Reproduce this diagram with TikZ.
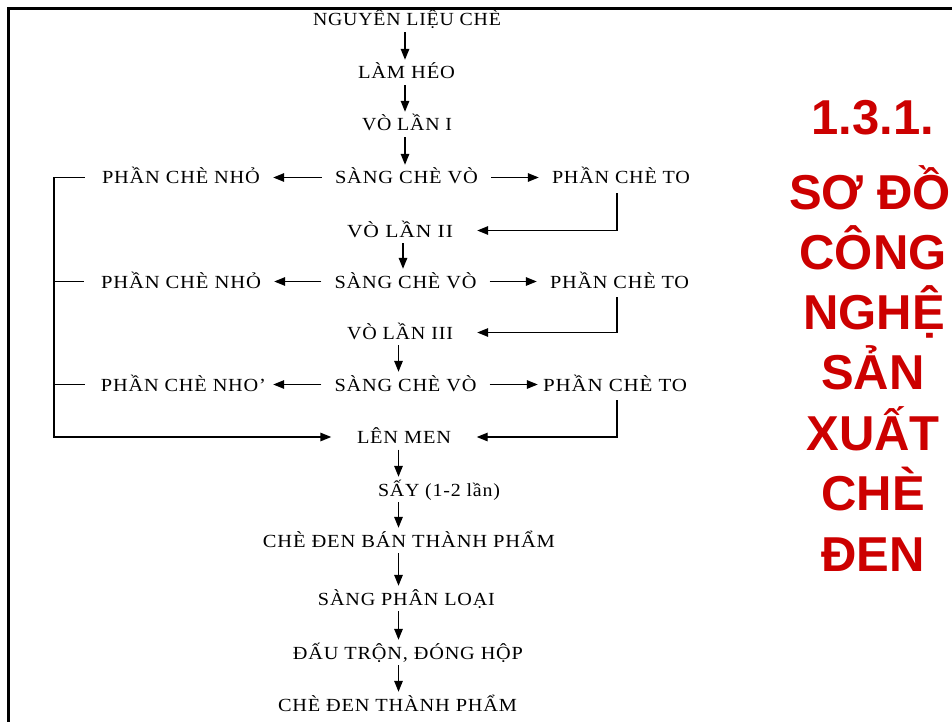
\documentclass[tikz,border=0pt]{standalone}
\usepackage{fontspec}
\setmainfont{Liberation Serif}
\newfontfamily\titlefont{Liberation Sans}
\usetikzlibrary{arrows.meta}
\definecolor{tred}{RGB}{204,0,0}
\newcommand\fitw[2]{\resizebox{#1pt}{\height}{\addfontfeature{LetterSpace=4}#2}}
\begin{document}
\begin{tikzpicture}[x=1pt,y=-1pt,
  lbl/.style={inner xsep=13pt, inner ysep=5pt, text height=14pt, text depth=1pt, anchor=base, font=\fontsize{18.5}{21}\selectfont},
  arr/.style={line width=1.4pt, -{Triangle[length=11pt,width=8.5pt]}},
  ln/.style={line width=1.4pt},
  ttl/.style={anchor=base, text=tred, font=\titlefont\bfseries\fontsize{49}{58}\selectfont, inner sep=0pt}
]
\useasboundingbox (0,0) rectangle (952,722);
\fill[white] (0,0) rectangle (952,722);
\draw[line width=3pt] (8.5,722) -- (8.5,8.5) -- (952,8.5);

% main column
\node[lbl] (n0) at (407,26) {\fitw{188}{NGUYÊN LIỆU CHÈ}};
\node[lbl] (n1) at (406.5,79) {\fitw{97}{LÀM HÉO}};
\node[lbl] (n2) at (407,131) {\fitw{90}{VÒ LẦN I}};
\node[lbl] (s1) at (406.5,184) {\fitw{143}{SÀNG CHÈ VÒ}};
\node[lbl] (p1) at (181,184) {\fitw{158}{PHẦN CHÈ NHỎ}};
\node[lbl] (t1) at (621,184) {\fitw{138}{PHẦN CHÈ TO}};
\node[lbl, inner xsep=24pt] (v2) at (400,237) {\fitw{106}{VÒ LẦN II}};
\node[lbl] (s2) at (405.5,288) {\fitw{142}{SÀNG CHÈ VÒ}};
\node[lbl] (p2) at (181,288) {\fitw{160}{PHẦN CHÈ NHỎ}};
\node[lbl] (t2) at (619.5,288) {\fitw{139}{PHẦN CHÈ TO}};
\node[lbl, inner xsep=24pt] (v3) at (400,339) {\fitw{106}{VÒ LẦN III}};
\node[lbl] (s3) at (405.5,391) {\fitw{142}{SÀNG CHÈ VÒ}};
\node[lbl, inner xsep=7pt] (p3) at (183.5,391) {\fitw{165}{PHẦN CHÈ NHO’}};
\node[lbl, inner xsep=5pt] (t3) at (615,391) {\fitw{144}{PHẦN CHÈ TO}};
\node[lbl, inner xsep=25.5pt] (m) at (404,443.5) {\fitw{94}{LÊN MEN}};
\node[lbl] (d1) at (439,496) {\fitw{122}{SẤY (1-2 lần)}};
\node[lbl] (d2) at (409,547) {\fitw{292}{CHÈ ĐEN BÁN THÀNH PHẨM}};
\node[lbl] (d3) at (406.5,605) {\fitw{177}{SÀNG PHÂN LOẠI}};
\node[lbl] (d4) at (408,659) {\fitw{230}{ĐẤU TRỘN, ĐÓNG HỘP}};
\node[lbl] (d5) at (397.5,711) {\fitw{239}{CHÈ ĐEN THÀNH PHẨM}};

\coordinate (ca) at (405,0);
\coordinate (cb) at (403,0);
\coordinate (cc) at (398.5,0);
\coordinate (L) at (54,0);
\coordinate (R) at (617,0);

% vertical arrows
\draw[arr] (n0.south -| ca) -- (n1.north -| ca);
\draw[arr] (n1.south -| ca) -- (n2.north -| ca);
\draw[arr] (n2.south -| ca) -- (s1.north -| ca);
\draw[arr] (v2.south -| cb) -- (s2.north -| cb);
\draw[arr] (v3.south -| cc) -- (s3.north -| cc);
\draw[arr] (m.south -| cc) -- (d1.north -| cc);
\draw[arr] (d1.south -| cc) -- (d2.north -| cc);
\draw[arr] (d2.south -| cc) -- (d3.north -| cc);
\draw[arr] (d3.south -| cc) -- (d4.north -| cc);
\draw[arr] (d4.south -| cc) -- (d5.north -| cc);

% horizontal arrows
\draw[arr] (s1.west) -- (p1.east);
\draw[arr] (s1.east) -- (t1.west);
\draw[arr] (s2.west) -- (p2.east);
\draw[arr] (s2.east) -- (t2.west);
\draw[arr] (s3.west) -- (p3.east);
\draw[arr] (s3.east) -- (t3.west);

% right returns
\draw[arr, shorten <=3pt] (t1.south -| R) |- (v2.east);
\draw[arr, shorten <=3pt] (t2.south -| R) |- (v3.east);
\draw[arr, shorten <=3pt] (t3.south -| R) |- (m.east);

% left collector
\draw[arr, shorten <=4pt] (p1.west) -- (p1.west -| L) |- (m.west);
\draw[ln, shorten <=4pt] (p2.west) -- (p2.west -| L);
\draw[ln, shorten <=9pt] (p3.west) -- (p3.west -| L);

% title
\node[ttl] (h1) at (873,135) {1.3.1.};
\node[ttl] (h2) at (870,209) {SƠ ĐỒ};
\node[ttl] (h3) at (873,269) {CÔNG};
\node[ttl] (h4) at (874,329) {NGHỆ};
\node[ttl] (h5) at (873,389) {SẢN};
\node[ttl] (h6) at (873,450) {XUẤT};
\node[ttl] (h7) at (873,510) {CHÈ};
\node[ttl] (h8) at (873,571) {ĐEN};
\end{tikzpicture}
\end{document}
